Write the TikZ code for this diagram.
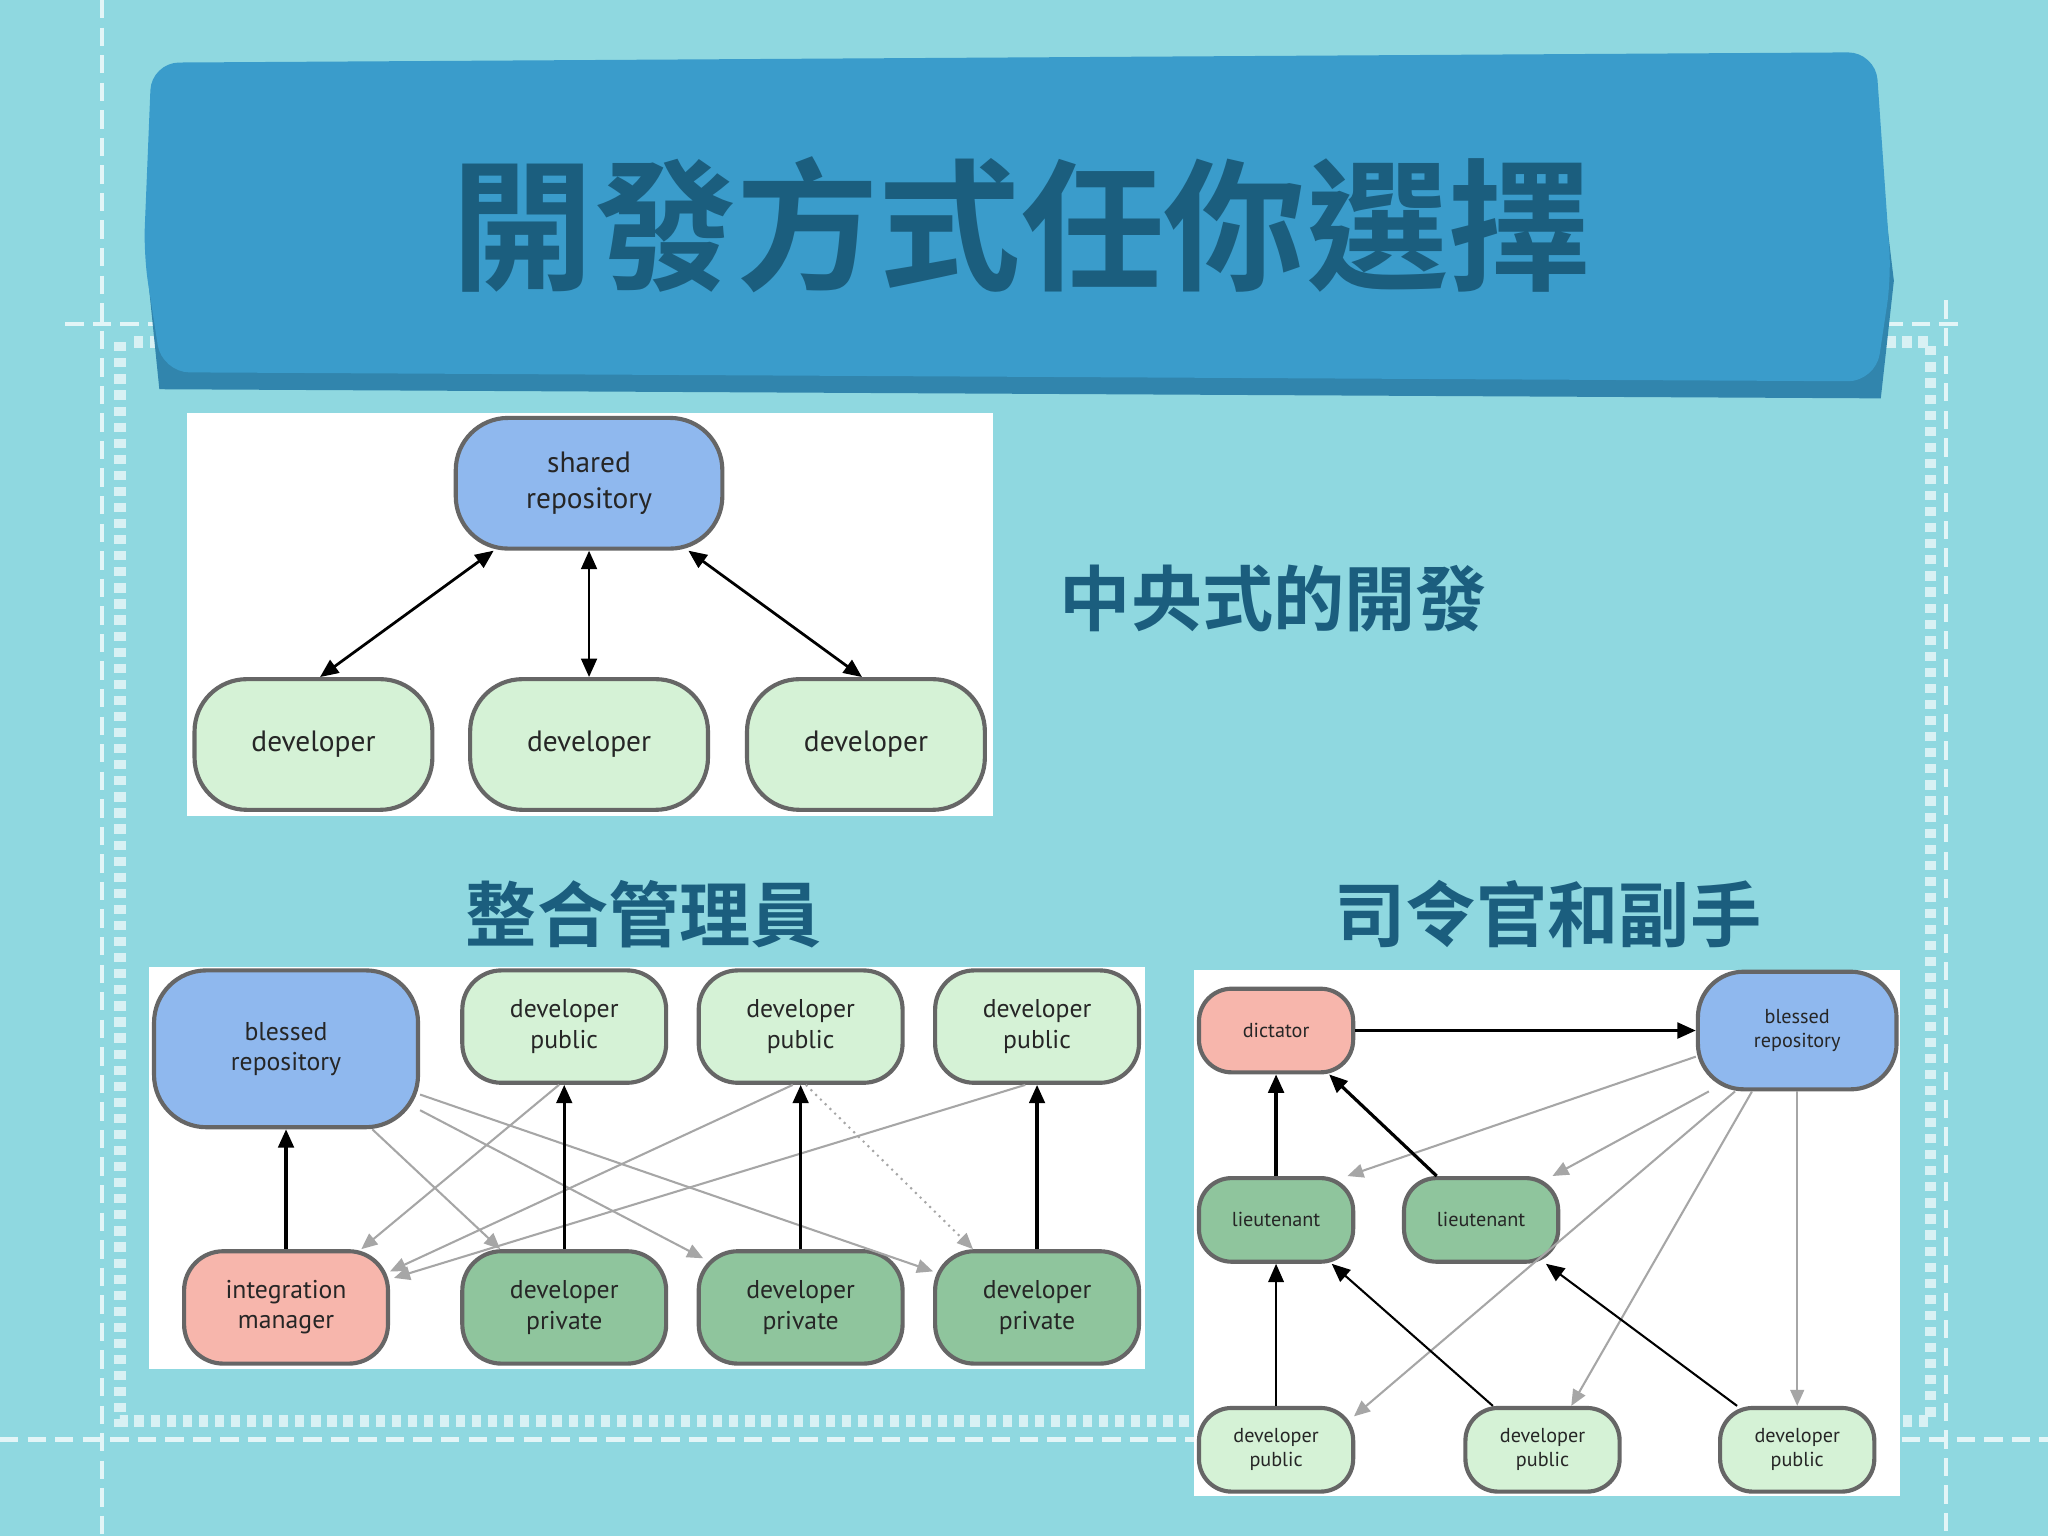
\documentclass[tikz,border=0pt]{standalone}
\usepackage{fontspec}
\setmainfont{PT Sans}
\newfontfamily\cjk{Noto Sans CJK TC}[BoldFont={* Bold}]
\usetikzlibrary{arrows.meta}
\definecolor{bg}{HTML}{8FD8E0}
\definecolor{banner}{HTML}{3A9CCB}
\definecolor{ttl}{HTML}{1B5E7E}
\definecolor{bluen}{HTML}{8FB8EE}
\definecolor{lgreen}{HTML}{D5F2D6}
\definecolor{dgreen}{HTML}{8FC59D}
\definecolor{pinkn}{HTML}{F7B6AC}
\tikzset{
 x=0.01cm,y=-0.01cm,
 box/.style={draw=black!60,line width=0.9pt,rounded corners=#1,align=center,text=black!85,inner sep=0pt},
 box/.default=0.3cm,
 blk/.style={-{Triangle[length=4pt,width=3.4pt]},line width=0.7pt,black},
 blkd/.style={{Triangle[length=4pt,width=3.4pt]}-{Triangle[length=4pt,width=3.4pt]},line width=0.6pt,black},
 gry/.style={-{Triangle[length=3.5pt,width=3pt]},line width=0.45pt,black!35},
 captxt/.style={font=\cjk\bfseries,text=ttl},
 frame/.style={white!75!bg,line width=1pt,dash pattern=on 4pt off 2pt}
}
\begin{document}
\begin{tikzpicture}
\fill[bg] (0,0) rectangle (1568,1176);
\useasboundingbox (0,0) rectangle (1568,1176);
% decorative frame
\draw[frame] (78,0) -- (78,1176);
\draw[frame] (50,248) -- (1505,248);
\draw[frame] (0,1102) -- (1568,1102);
\draw[frame] (1490,230) -- (1490,1176);
\draw[white!65!bg,line width=2.5pt,dash pattern=on 2pt off 1.5pt] (92,262) -- (92,1088) -- (1478,1088) -- (1478,262) -- (100,262);
% banner
\fill[banner!85!black] (118,60) -- (1430,48) -- (1450,215) -- (1440,305) -- (122,298) -- (112,200) -- cycle;
\fill[banner, rounded corners=6pt] (116,48) -- (1436,40) -- (1448,212) -- (1436,292) -- (124,285) -- (110,195) -- cycle;
\node[captxt,font=\cjk\bfseries\fontsize{31pt}{31pt}\selectfont] (title) at (782,172) {開發方式任你選擇};
% captions
\node[captxt,font=\cjk\bfseries\fontsize{15.5pt}{16pt}\selectfont] (c1) at (975,458) {中央式的開發};
\node[captxt,font=\cjk\bfseries\fontsize{15.5pt}{16pt}\selectfont] (c2) at (493,700) {整合管理員};
\node[captxt,font=\cjk\bfseries\fontsize{15.5pt}{16pt}\selectfont] (c3) at (1185,700) {司令官和副手};
% panels
\fill[white] (143,316) rectangle (760,625);
\fill[white] (114,740) rectangle (877,1048);
\fill[white] (914,743) rectangle (1455,1145);
% diagram 1
\begin{scope}[every node/.append style={font=\fontsize{6.4pt}{7.8pt}\selectfont}]
\node[box=0.4cm,fill=bluen,minimum width=2.04cm,minimum height=1.0cm] (sr) at (451,370) {shared\\repository};
\node[box=0.4cm,fill=lgreen,minimum width=1.82cm,minimum height=1.0cm] (d1) at (240,570) {developer};
\node[box=0.4cm,fill=lgreen,minimum width=1.82cm,minimum height=1.0cm] (d2) at (451,570) {developer};
\node[box=0.4cm,fill=lgreen,minimum width=1.82cm,minimum height=1.0cm] (d3) at (663,570) {developer};
\end{scope}
\draw[blkd] ([xshift=-0.73cm]sr.south) -- ([xshift=0.05cm]d1.north);
\draw[blkd] (sr.south) -- (d2.north);
\draw[blkd] ([xshift=0.76cm]sr.south) -- ([xshift=-0.03cm]d3.north);
% diagram 2
\begin{scope}[every node/.append style={font=\fontsize{5.6pt}{6.6pt}\selectfont}]
\node[box=0.4cm,fill=bluen,minimum width=2.02cm,minimum height=1.2cm] (b) at (219,803) {blessed\\repository};
\node[box,fill=lgreen,minimum width=1.56cm,minimum height=0.86cm] (u1) at (432,786) {developer\\public};
\node[box,fill=lgreen,minimum width=1.56cm,minimum height=0.86cm] (u2) at (613,786) {developer\\public};
\node[box,fill=lgreen,minimum width=1.56cm,minimum height=0.86cm] (u3) at (794,786) {developer\\public};
\node[box,fill=pinkn,minimum width=1.56cm,minimum height=0.86cm] (im) at (219,1001) {integration\\manager};
\node[box,fill=dgreen,minimum width=1.56cm,minimum height=0.86cm] (v1) at (432,1001) {developer\\private};
\node[box,fill=dgreen,minimum width=1.56cm,minimum height=0.86cm] (v2) at (613,1001) {developer\\private};
\node[box,fill=dgreen,minimum width=1.56cm,minimum height=0.86cm] (v3) at (794,1001) {developer\\private};
\end{scope}
\draw[gry] ([xshift=0.66cm]b.south) -- ([xshift=-0.49cm]v1.north);
\draw[gry] ([yshift=-0.47cm]b.east) -- ([xshift=0.05cm,yshift=-0.07cm]v2.north west);
\draw[gry] ([yshift=-0.35cm]b.east) -- ([yshift=-0.17cm]v3.north west);
\draw[gry] ([xshift=-0.04cm]u1.south) -- ([xshift=-0.22cm]im.north east);
\draw[gry] ([xshift=-0.06cm]u2.south) -- ([yshift=-0.17cm]im.north east);
\draw[gry] ([xshift=-0.09cm]u3.south) -- ([xshift=0.03cm,yshift=-0.22cm]im.north east);
\draw[gry,densely dotted] ([xshift=0.04cm]u2.south) -- ([xshift=-0.49cm]v3.north);
\draw[blk] (im.north) -- (b.south);
\draw[blk] (v1.north) -- (u1.south);
\draw[blk] (v2.north) -- (u2.south);
\draw[blk] (v3.north) -- (u3.south);
% diagram 3
\begin{scope}[every node/.append style={font=\fontsize{4.4pt}{5.2pt}\selectfont}]
\node[box=0.25cm,fill=pinkn,minimum width=1.18cm,minimum height=0.64cm] (dc) at (977,789) {dictator};
\node[box=0.35cm,fill=bluen,minimum width=1.52cm,minimum height=0.9cm] (B) at (1376,789) {blessed\\repository};
\node[box=0.25cm,fill=dgreen,minimum width=1.18cm,minimum height=0.64cm] (l1) at (977,934) {lieutenant};
\node[box=0.25cm,fill=dgreen,minimum width=1.18cm,minimum height=0.64cm] (l2) at (1134,934) {lieutenant};
\node[box=0.25cm,fill=lgreen,minimum width=1.18cm,minimum height=0.64cm] (w1) at (977,1110) {developer\\public};
\node[box=0.25cm,fill=lgreen,minimum width=1.18cm,minimum height=0.64cm] (w2) at (1181,1110) {developer\\public};
\node[box=0.25cm,fill=lgreen,minimum width=1.18cm,minimum height=0.64cm] (w3) at (1376,1110) {developer\\public};
\end{scope}
\draw[gry] ([yshift=-0.2cm]B.west) -- ([xshift=-0.06cm]l1.north east);
\draw[gry] ([xshift=0.1cm]B.south west) -- ([xshift=-0.06cm]l2.north east);
\draw[gry] ([xshift=0.3cm]B.south west) -- ([xshift=-0.01cm,yshift=-0.08cm]w1.north east);
\draw[gry] ([xshift=0.43cm]B.south west) -- ([xshift=0.22cm]w2.north);
\draw[gry] (B.south) -- (w3.north);
\draw[blk] (dc.east) -- (B.west);
\draw[blk] (l1.north) -- (dc.south);
\draw[blk] ([xshift=-0.34cm]l2.north) -- ([xshift=-0.2cm]dc.south east);
\draw[blk,line width=0.45pt] (w1.north) -- (l1.south);
\draw[blk,line width=0.45pt] ([xshift=-0.38cm]w2.north) -- ([xshift=-0.18cm]l1.south east);
\draw[blk,line width=0.45pt] ([xshift=-0.46cm]w3.north) -- ([xshift=-0.11cm]l2.south east);
\end{tikzpicture}
\end{document}
